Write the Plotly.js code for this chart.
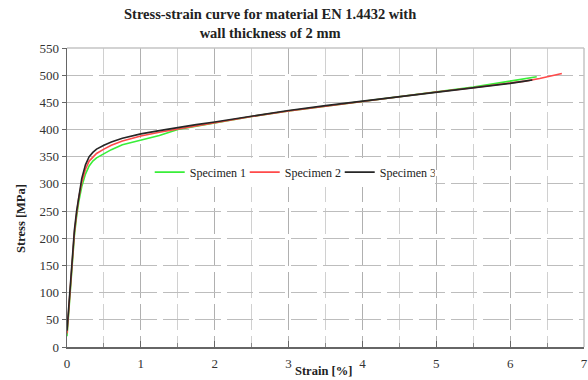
<!DOCTYPE html>
<html>
<head>
<meta charset="utf-8">
<script src="https://cdn.plot.ly/plotly-3.0.1.min.js"></script>
<style>html,body{margin:0;padding:0;background:#fff;}#chart{width:588px;height:380px;}</style>
</head>
<body>
<div id="chart"></div>
<script>
// Specimen 1 (green)
const strain1 = [0, 0.02, 0.04, 0.06, 0.08, 0.1, 0.13, 0.16, 0.2, 0.25, 0.3, 0.35, 0.4, 0.5, 0.6, 0.75, 1.0, 1.25, 1.5, 1.75, 2.0, 2.5, 3.0, 3.5, 4.0, 4.5, 5.0, 5.5, 6.0, 6.2, 6.36];
const stress1 = [20, 60, 100, 140, 175, 205, 240, 268, 295, 318, 333, 342, 348, 356, 363, 372, 381, 389, 400, 406, 412, 424, 434, 443, 452, 461, 470, 478, 489, 493, 497];
// Specimen 2 (red)
const strain2 = [0, 0.02, 0.04, 0.06, 0.08, 0.1, 0.13, 0.16, 0.2, 0.25, 0.3, 0.35, 0.4, 0.5, 0.6, 0.75, 1.0, 1.25, 1.5, 1.75, 2.0, 2.5, 3.0, 3.5, 4.0, 4.5, 5.0, 5.5, 6.0, 6.2, 6.4, 6.55, 6.7];
const stress2 = [25, 65, 105, 145, 180, 210, 245, 275, 303, 327, 342, 350, 356, 364, 371, 379, 388, 395, 401, 407, 413, 424, 434, 443, 452, 461, 469, 477, 486, 489, 494, 498, 503];
// Specimen 3 (black)
const strain3 = [0, 0.02, 0.04, 0.06, 0.08, 0.1, 0.13, 0.16, 0.2, 0.25, 0.3, 0.35, 0.4, 0.5, 0.6, 0.75, 1.0, 1.25, 1.5, 1.75, 2.0, 2.5, 3.0, 3.5, 4.0, 4.5, 5.0, 5.5, 6.0, 6.2, 6.3];
const stress3 = [30, 70, 110, 150, 185, 215, 250, 280, 310, 335, 350, 358, 364, 371, 377, 384, 392, 398, 404, 409, 414, 425, 435, 444, 452, 461, 469, 477, 485, 489, 491];

const names = ["Specimen 1", "Specimen 2", "Specimen 3"];
const colors = ["#39ee39", "#ff4a4a", "#262626"];
const xTicks = [0, 1, 2, 3, 4, 5, 6, 7];
const yTicks = [0, 50, 100, 150, 200, 250, 300, 350, 400, 450, 500, 550];
const titleText = "Stress-strain curve for material EN 1.4432 with<br>wall thickness of 2 mm";

const serif = "Liberation Serif, Times New Roman, serif";
const data = [[strain1, stress1], [strain2, stress2], [strain3, stress3]].map((d, i) => ({
  x: d[0], y: d[1], name: names[i], type: "scatter", mode: "lines",
  line: {color: colors[i], width: 1.6}
}));

const layout = {
  width: 588, height: 380,
  margin: {l: 67, r: 4, t: 48, b: 33},
  paper_bgcolor: "#fff", plot_bgcolor: "#fff",
  font: {family: serif, size: 12, color: "#333"},
  showlegend: true,
  legend: {orientation: "h", x: 0.16, xanchor: "left", y: 0.585, yanchor: "middle",
           bgcolor: "#fff", font: {family: serif, size: 12, color: "#222"}, entrywidth: 50, tracegroupgap: 0},
  xaxis: {range: [0, 7], tickvals: xTicks, ticktext: xTicks.map(String), showgrid: true,
          gridcolor: "#b0b0b0", griddash: "26px,6px", gridwidth: 1,
          showline: true, linecolor: "#666", linewidth: 1.5, ticks: "inside", ticklen: 6, tickcolor: "#666",
          ticklabelstandoff: 4,
          zeroline: false, tickfont: {family: serif, size: 13, color: "#333"},
          minor: {dtick: 0.5, tick0: 0, showgrid: true, gridcolor: "#d0d0d0", griddash: "26px,6px", ticks: "inside", ticklen: 4, tickcolor: "#888"}},
  yaxis: {range: [0, 550], tickvals: yTicks, ticktext: yTicks.map(String), showgrid: true,
          gridcolor: "#bdbdbd", griddash: "26px,6px", gridwidth: 1,
          showline: true, linecolor: "#666", linewidth: 1.5, ticks: "outside", ticklen: 4, tickcolor: "#666",
          zeroline: false, tickfont: {family: serif, size: 13, color: "#333"}},
  shapes: [
    {type: "line", xref: "paper", yref: "paper", x0: 0, x1: 1, y0: 1, y1: 1, line: {color: "#c4c4c4", width: 1.5}},
    {type: "line", xref: "paper", yref: "paper", x0: 1, x1: 1, y0: 0, y1: 1, line: {color: "#c4c4c4", width: 1.5}}
  ],
  annotations: [
    {text: "<b>" + titleText + "</b>", xref: "paper", yref: "paper", x: 0.393, y: 1.082, showarrow: false,
     font: {family: serif, size: 14.5, color: "#222"}, xanchor: "center", yanchor: "middle", align: "center"},
    {text: "<b>Stress [MPa]</b>", xref: "paper", yref: "paper", x: -0.088, y: 0.43, textangle: -90,
     showarrow: false, font: {family: serif, size: 12.5, color: "#222"}, xanchor: "center", yanchor: "middle"},
    {text: "<b>Strain [%]</b>", xref: "paper", yref: "paper", x: 0.497, y: -0.079, showarrow: false,
     font: {family: serif, size: 12.5, color: "#222"}, xanchor: "center", yanchor: "middle"}
  ]
};

Plotly.newPlot("chart", data, layout, {displayModeBar: false, staticPlot: true});
</script>
</body>
</html>
